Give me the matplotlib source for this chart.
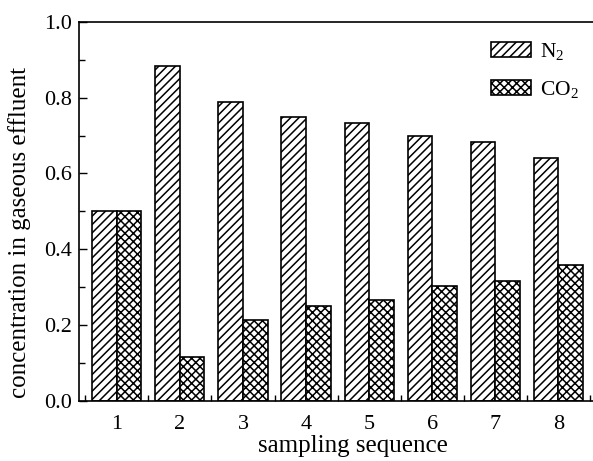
import matplotlib
matplotlib.use("Agg")
import matplotlib.pyplot as plt
import numpy as np

categories = [1, 2, 3, 4, 5, 6, 7, 8]
n2 = [0.500, 0.885, 0.788, 0.750, 0.733, 0.699, 0.684, 0.642]
co2 = [0.500, 0.115, 0.213, 0.250, 0.266, 0.302, 0.316, 0.358]
series_labels = ["N$_2$", "CO$_2$"]
yticks = [0.0, 0.2, 0.4, 0.6, 0.8, 1.0]

plt.rcParams['font.family'] = ['Liberation Serif', 'DejaVu Serif']
plt.rcParams['mathtext.fontset'] = 'custom'
plt.rcParams['mathtext.rm'] = 'Liberation Serif'
plt.rcParams['mathtext.it'] = 'Liberation Serif:italic'
plt.rcParams['hatch.linewidth'] = 1.1
plt.rcParams['hatch.color'] = 'black'

fig = plt.figure(figsize=(5.93, 4.61), dpi=100)
ax = fig.add_axes([0.1332, 0.1308, 0.8668, 0.8215])

x = np.array(categories, dtype=float)
w = 0.39
ax.bar(x - w/2, n2, width=w, facecolor='white', edgecolor='black', hatch='////', linewidth=1.2, label=series_labels[0])
ax.bar(x + w/2, co2, width=w, facecolor='white', edgecolor='black', hatch='xxxx', linewidth=1.2, label=series_labels[1])

ax.set_xlim(0.4, 8.55)
ax.set_ylim(0, 1.0)
ax.set_yticks(yticks)
ax.set_yticklabels([f"{v:.1f}" for v in yticks])
ax.set_yticks(np.arange(0.1, 1.0, 0.2), minor=True)
ax.set_xticks(categories)
ax.set_xticks(np.arange(0.5, 9.0, 1.0), minor=True)
ax.tick_params(axis='both', which='both', direction='in', labelsize=16, width=1.0)
ax.tick_params(axis='y', which='major', length=6, pad=5)
ax.tick_params(axis='y', which='minor', length=4)
ax.tick_params(axis='x', which='major', length=0, pad=10)
ax.tick_params(axis='x', which='minor', length=4)
ax.spines['right'].set_visible(False)
for s in ['left', 'bottom', 'top']:
    ax.spines[s].set_linewidth(1.2)

ax.set_xlabel("sampling sequence", fontsize=18)
ax.xaxis.set_label_coords(0.533, -0.091)
ax.set_ylabel("concentration in gaseous effluent", fontsize=18)
ax.yaxis.set_label_coords(-0.093, 0.445)

ax.legend(loc='upper left', bbox_to_anchor=((491 - 79) / 514, (400.7 - 41) / 378.7), frameon=False, fontsize=15.5,
          handlelength=1.86, handleheight=0.7, labelspacing=0.79, handletextpad=0.4,
          borderpad=0, borderaxespad=0)

fig.savefig("out.png", dpi=100)
